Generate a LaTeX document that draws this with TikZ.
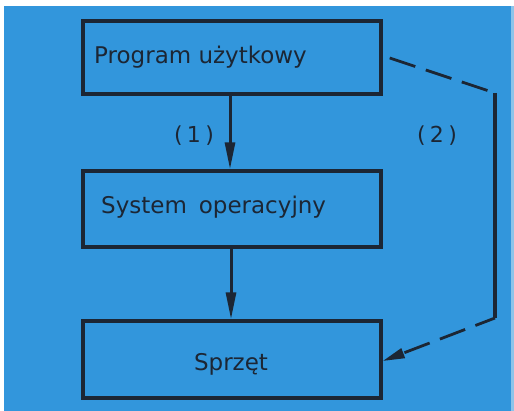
\documentclass[tikz,border=0pt]{standalone}
\usepackage{fontspec}
\setmainfont{DejaVu Sans}
\usetikzlibrary{arrows.meta}
\definecolor{bgblue}{RGB}{50,150,220}
\definecolor{edgeblue}{RGB}{140,196,234}
\definecolor{ink}{RGB}{28,38,52}
\tikzset{
  box/.style={draw=ink, line width=3.4pt, minimum width=298pt, minimum height=#1, inner sep=0pt},
  txt/.style={text=ink, font=\fontsize{23}{25}\selectfont, inner sep=0pt},
  lbl/.style={text=ink, font=\fontsize{22}{24}\selectfont, inner sep=0pt},
  flow/.style={draw=ink, line width=3pt, -{Triangle[length=27pt,width=10pt]}},
  dashline/.style={draw=ink, line width=2.8pt, dash pattern=on 27pt off 11pt},
  solidline/.style={draw=ink, line width=3.6pt}
}
\begin{document}
\begin{tikzpicture}[x=1pt,y=-1pt]
\useasboundingbox (0,0) rectangle (514,411);
\fill[white] (0,0) rectangle (514,411);
\fill[bgblue] (4,6) rectangle (511,411);
\fill[edgeblue] (511,6) rectangle (514,411);

\node[box=73pt] (prog) at (232,57.5) {};
\node[box=76pt] (sys) at (232,209) {};
\node[box=77pt] (hw) at (232,359.5) {};

\node[txt, anchor=base west] (progt) at (94,64) {Program użytkowy};
\node[txt, anchor=base west] (syst) at (101,214) {System\hspace{0.2em} operacyjny};
\node[txt, anchor=base] (hwt) at (231,371) {Sprzęt};

\node[lbl] (l1) at (194,136) {(\hspace{0.2em}1\hspace{0.2em})};
\node[lbl] (l2) at (437,136) {(\hspace{0.2em}2\hspace{0.2em})};

\coordinate (c1) at (495,93);
\coordinate (c2) at (495,318);

\draw[flow] (prog.south -| 230,0) -- (sys.north -| 230,0);
\draw[flow] (sys.south -| 231,0) -- (hw.north -| 231,0);

\draw[dashline] ([xshift=7pt,yshift=-0.5pt]prog.east) -- (c1);
\draw[solidline] (c1) -- (c2);
\draw[dashline, dash phase=6pt, -{Triangle[length=22pt,width=10pt]}] (c2) -- ([yshift=-1.5pt]hw.east);
\end{tikzpicture}
\end{document}
